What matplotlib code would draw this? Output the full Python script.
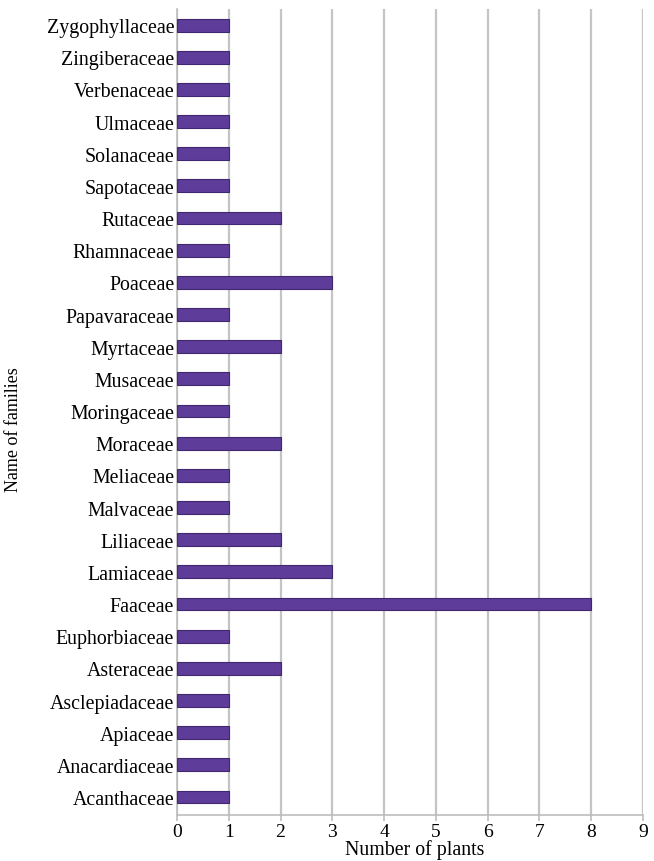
import matplotlib
matplotlib.use("Agg")
import matplotlib.pyplot as plt

families = ["Acanthaceae", "Anacardiaceae", "Apiaceae", "Asclepiadaceae", "Asteraceae",
            "Euphorbiaceae", "Faaceae", "Lamiaceae", "Liliaceae", "Malvaceae",
            "Meliaceae", "Moraceae", "Moringaceae", "Musaceae", "Myrtaceae",
            "Papavaraceae", "Poaceae", "Rhamnaceae", "Rutaceae", "Sapotaceae",
            "Solanaceae", "Ulmaceae", "Verbenaceae", "Zingiberaceae", "Zygophyllaceae"]
counts = [1, 1, 1, 1, 2, 1, 8, 3, 2, 1, 1, 2, 1, 1, 2, 1, 3, 1, 2, 1, 1, 1, 1, 1, 1]
xticks = list(range(0, 10))

plt.rcParams['font.family'] = ['Liberation Serif', 'DejaVu Serif']

fig = plt.figure(figsize=(6.54, 8.62), dpi=100)
ax = fig.add_axes([177/654, 1 - 816/862, (643-177)/654, (816-10)/862])

y = list(range(len(families)))
ax.barh(y, counts, height=0.4, color='#5E3C99', edgecolor='#3f2870', linewidth=0.8, zorder=3)

ax.set_xlim(0, 9)
ax.set_ylim(-0.56, len(families) - 0.5)
ax.set_xticks(xticks)
ax.set_yticks(y)
ax.set_yticklabels(families, fontsize=14.3)
ax.tick_params(axis='x', labelsize=14, length=4, color='#bdbdbd', width=1.2, pad=2)
ax.tick_params(axis='y', length=0, pad=2)
ax.grid(axis='x', color='#c4c4c4', linewidth=1.6, zorder=0)
ax.set_axisbelow(True)
for s in ['top', 'right']:
    ax.spines[s].set_visible(False)
ax.spines['left'].set_color('#bdbdbd')
ax.spines['left'].set_linewidth(1.2)
ax.spines['bottom'].set_color('#bdbdbd')
ax.spines['bottom'].set_linewidth(1.2)

fig.text(415/654, 1 - 850/862, "Number of plants", fontsize=14.3, ha='center', va='center')
fig.text(14/654, 1 - 430/862, "Name of families", rotation=90, fontsize=13,
         ha='center', va='center')

fig.savefig("out.png", dpi=100)
